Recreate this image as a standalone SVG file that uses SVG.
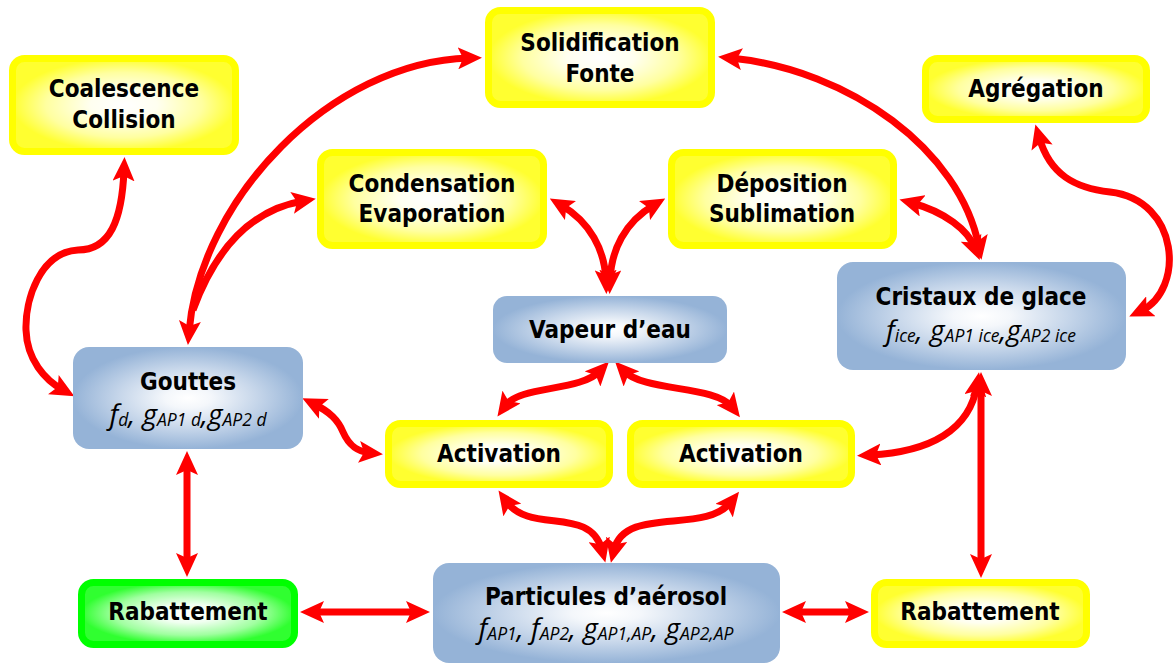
<svg xmlns="http://www.w3.org/2000/svg" width="1176" height="664" viewBox="0 0 1176 664">
<style>
.t{font-family:"DejaVu Sans Condensed","DejaVu Sans",sans-serif;font-weight:bold;font-size:24px;text-anchor:middle;fill:#000}
.m{font-family:"Open Sans",sans-serif;font-style:italic;font-size:28px;text-anchor:middle;fill:#000}
.s{font-size:17.5px}
.y{fill:url(#gy);stroke:#ffff00;stroke-width:7}
.g{fill:url(#gg);stroke:#00ff00;stroke-width:7}
.b{fill:url(#gb)}
.c{fill:none;stroke:#ff0000;stroke-width:7;marker-start:url(#ah);marker-end:url(#ah)}
.e{fill:none;stroke:#ff0000;stroke-width:7;marker-end:url(#ah)}
</style>
<defs>
<radialGradient id="gy" cx="50%" cy="50%" r="50%">
<stop offset="0" stop-color="#ffffff"/><stop offset="0.3" stop-color="#fffff0"/><stop offset="0.7" stop-color="#ffffa0"/><stop offset="1" stop-color="#ffff30"/>
</radialGradient>
<radialGradient id="gg" cx="50%" cy="50%" r="50%">
<stop offset="0" stop-color="#ffffff"/><stop offset="0.3" stop-color="#f0fff0"/><stop offset="0.7" stop-color="#a0ffa0"/><stop offset="1" stop-color="#30ff30"/>
</radialGradient>
<radialGradient id="gb" cx="50%" cy="50%" r="50%">
<stop offset="0" stop-color="#ffffff"/><stop offset="0.2" stop-color="#f4f7fb"/><stop offset="0.6" stop-color="#c6d6ea"/><stop offset="1" stop-color="#95b3d7"/>
</radialGradient>
<marker id="ah" markerUnits="userSpaceOnUse" viewBox="0 0 24 22" markerWidth="24" markerHeight="22" refX="11" refY="11" orient="auto-start-reverse">
<path d="M0,0 L24,11 L0,22 L5,11 z" fill="#ff0000"/>
</marker>
</defs>

<g id="connectors">
<path class="c" d="M124,170 C122,220 110,250 78,250 C40,252 25,300 26,330 C27,360 45,380 63,390"/>
<path class="c" d="M189,332 C200,200 330,62 469,58"/>
<path class="e" d="M193,310 C215,250 250,210 303,201"/>
<path class="c" d="M561,205 C590,222 605,250 606,281"/>
<path class="c" d="M654,205 C625,222 611,250 610,281"/>
<path class="c" d="M912,203 C945,212 968,230 975,248"/>
<path class="c" d="M731,58 C850,70 960,150 979,247"/>
<path class="c" d="M1039,137 C1050,175 1075,188 1110,192 C1180,200 1185,290 1141,311"/>
<path class="c" d="M314,404 C330,412 338,420 343,432 C350,448 360,452 370,453"/>
<path class="c" d="M600,371 C580,392 520,385 505,406"/>
<path class="c" d="M624,371 C644,392 715,385 732,407"/>
<path class="c" d="M506,501 C530,535 590,505 602,550"/>
<path class="c" d="M731,502 C705,535 625,505 614,550"/>
<path class="c" d="M977,385 C970,430 930,452 870,455"/>
<path class="c" d="M981,385 L981,565"/>
<path class="c" d="M187,464 L187,564"/>
<path class="c" d="M313,612 L417,612"/>
<path class="c" d="M795,612 L856,612"/>
</g>

<g id="coalescence">
<rect class="y" x="12.5" y="58.5" width="223" height="93" rx="12"/>
<text class="t" x="124" y="97">Coalescence</text>
<text class="t" x="124" y="128">Collision</text>
</g>
<g id="solidification">
<rect class="y" x="488.5" y="10.5" width="223" height="94" rx="12"/>
<text class="t" x="600" y="51">Solidification</text>
<text class="t" x="600" y="82">Fonte</text>
</g>
<g id="agregation">
<rect class="y" x="925.5" y="58.5" width="221" height="61" rx="12"/>
<text class="t" x="1036" y="97">Agrégation</text>
</g>
<g id="condensation">
<rect class="y" x="320.5" y="152.5" width="223" height="93" rx="12"/>
<text class="t" x="432" y="192">Condensation</text>
<text class="t" x="432" y="222">Evaporation</text>
</g>
<g id="deposition">
<rect class="y" x="671.5" y="152.5" width="222" height="93" rx="12"/>
<text class="t" x="782" y="192">Déposition</text>
<text class="t" x="782" y="222">Sublimation</text>
</g>
<g id="vapeur">
<rect class="b" x="493" y="296" width="234" height="67" rx="14"/>
<text class="t" x="610" y="338">Vapeur d’eau</text>
</g>
<g id="cristaux">
<rect class="b" x="837" y="262" width="289" height="108" rx="16"/>
<text class="t" x="981" y="305">Cristaux de glace</text>
<text class="m" x="981" y="340">f<tspan class="s" dy="2">ice</tspan><tspan dy="-2">, g</tspan><tspan class="s" dy="2">AP1 ice</tspan><tspan dy="-2">,g</tspan><tspan class="s" dy="2">AP2 ice</tspan></text>
</g>
<g id="gouttes">
<rect class="b" x="73" y="347" width="230" height="102" rx="16"/>
<text class="t" x="188" y="390">Gouttes</text>
<text class="m" x="188" y="424">f<tspan class="s" dy="2">d</tspan><tspan dy="-2">, g</tspan><tspan class="s" dy="2">AP1 d</tspan><tspan dy="-2">,g</tspan><tspan class="s" dy="2">AP2 d</tspan></text>
</g>
<g id="activation1">
<rect class="y" x="388.5" y="423.5" width="221" height="61" rx="12"/>
<text class="t" x="499" y="462">Activation</text>
</g>
<g id="activation2">
<rect class="y" x="630.5" y="423.5" width="221" height="61" rx="12"/>
<text class="t" x="741" y="462">Activation</text>
</g>
<g id="rabattement1">
<rect class="g" x="81.5" y="582.5" width="213" height="62" rx="12"/>
<text class="t" x="188" y="620">Rabattement</text>
</g>
<g id="particules">
<rect class="b" x="433" y="563" width="347" height="100" rx="16"/>
<text class="t" x="606" y="605">Particules d’aérosol</text>
<text class="m" x="606" y="638">f<tspan class="s" dy="2">AP1</tspan><tspan dy="-2">, f</tspan><tspan class="s" dy="2">AP2</tspan><tspan dy="-2">, g</tspan><tspan class="s" dy="2">AP1,AP</tspan><tspan dy="-2">, g</tspan><tspan class="s" dy="2">AP2,AP</tspan></text>
</g>
<g id="rabattement2">
<rect class="y" x="874.5" y="582.5" width="212" height="62" rx="12"/>
<text class="t" x="980" y="620">Rabattement</text>
</g>
</svg>
